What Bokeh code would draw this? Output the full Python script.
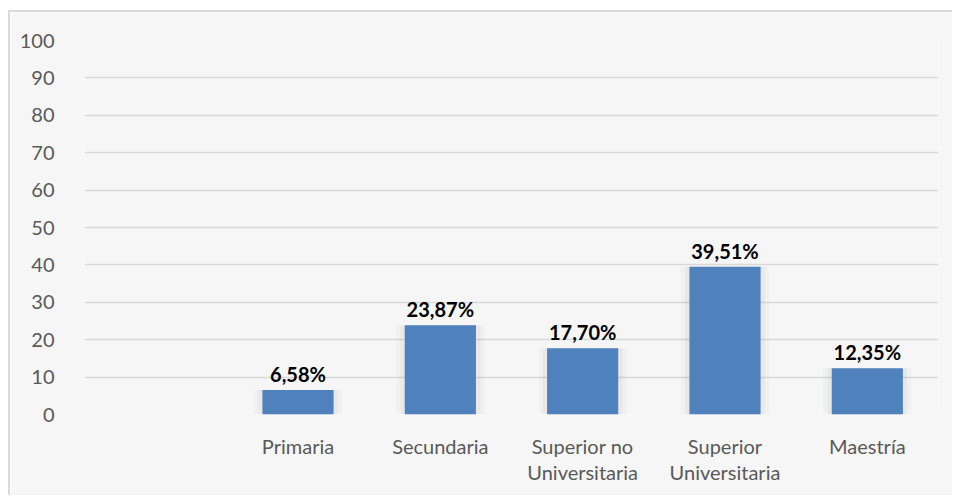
from bokeh.plotting import figure
from bokeh.models import FactorRange, FixedTicker, ColumnDataSource
from bokeh.embed import file_html
from bokeh.resources import INLINE
from bokeh.core.properties import value

# ---- data ----
categories = ["Primaria", "Secundaria", "Superior no\nUniversitaria",
              "Superior\nUniversitaria", "Maestría"]
values = [6.58, 23.87, 17.70, 39.51, 12.35]
y_ticks = [0, 10, 20, 30, 40, 50, 60, 70, 80, 90, 100]
blank_slot = " "

FONT = "Lato"
W, H = 944, 485
BG = "#f6f6f6"

factors = [blank_slot] + categories
p = figure(x_range=FactorRange(factors=factors, range_padding=0),
           y_range=(0, 100), width=W, height=H,
           output_backend="svg", toolbar_location=None,
           min_border_left=74, min_border_right=16,
           min_border_top=28, min_border_bottom=83)
p.styles = {"margin-left": "8px", "margin-top": "10px",
            "border-left": "2px solid #d9d9d9",
            "border-top": "2px solid #d9d9d9"}

p.background_fill_color = BG
p.border_fill_color = BG
p.outline_line_color = None

labels = [f"{v:.2f}".replace(".", ",") + "%" for v in values]
src = ColumnDataSource(dict(x=categories, top=values, label=labels))

# soft shadow behind bars
for w, a in [(0.62, 0.022), (0.56, 0.03)]:
    p.vbar(x="x", top="top", width=w, bottom=0, source=src,
           fill_color="black", fill_alpha=a, line_color=None)

p.vbar(x="x", top="top", width=0.5, bottom=0, source=src,
       fill_color="#4F81BD", line_color=None)

p.text(x="x", y="top", text="label", source=src,
       text_font=value(FONT), text_font_size="20px", text_font_style="bold",
       text_color="black", text_align="center", text_baseline="alphabetic",
       y_offset=-16)

# axes
p.yaxis.ticker = FixedTicker(ticks=y_ticks)
p.yaxis.axis_line_color = None
p.yaxis.major_tick_line_color = None
p.yaxis.minor_tick_line_color = None
p.yaxis.major_label_text_font = FONT
p.yaxis.major_label_text_font_size = "20px"
p.yaxis.major_label_text_color = "#595959"
p.yaxis.major_label_standoff = 24

p.xaxis.axis_line_color = None
p.xaxis.major_tick_line_color = None
p.xaxis.major_label_text_font = FONT
p.xaxis.major_label_text_font_size = "20px"
p.xaxis.major_label_text_color = "#595959"
p.xaxis.major_label_text_line_height = 1.12
p.xaxis.major_label_standoff = 13

p.xgrid.grid_line_color = None
p.ygrid.grid_line_color = "#d9d9d9"
p.ygrid.grid_line_width = 1.5

open("out.html", "w").write(file_html(p, INLINE))
